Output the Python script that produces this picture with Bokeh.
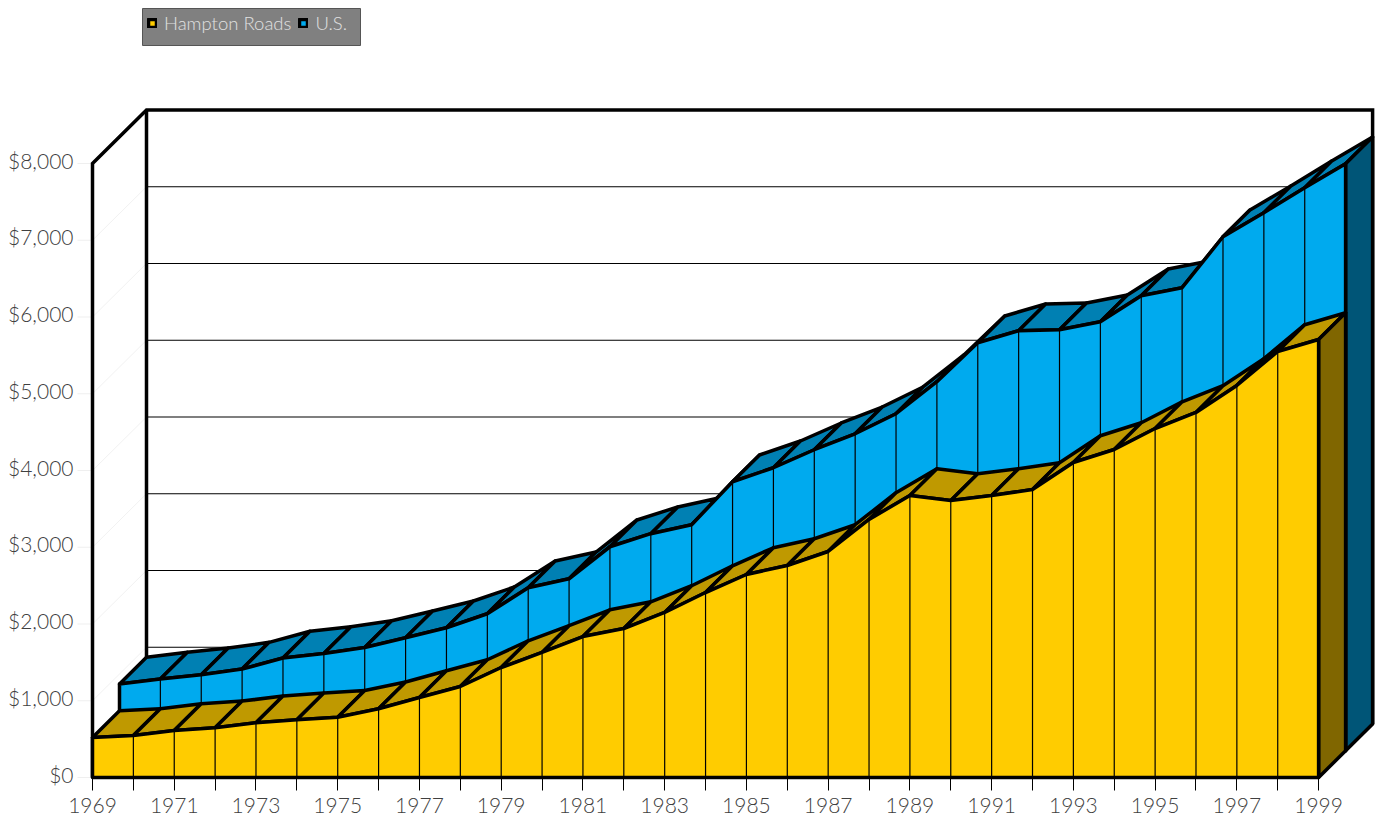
from bokeh.plotting import figure
from bokeh.models import Range1d, LinearAxis, FixedTicker, NumeralTickFormatter, Legend, LegendItem, BoxAnnotation
from bokeh.embed import file_html
from bokeh.resources import INLINE

years = list(range(1969, 2000))
labelled_years = list(range(1969, 2000, 2))
y_ticks = [0, 1000, 2000, 3000, 4000, 5000, 6000, 7000, 8000]
hampton = [521, 547, 612, 647, 713, 752, 786, 895, 1042, 1186, 1433, 1629, 1837, 1941, 2150, 2410,
           2645, 2762, 2945, 3362, 3674, 3609, 3674, 3753, 4104, 4274, 4547, 4756, 5108, 5551, 5707]
us = [869, 934, 990, 1064, 1208, 1268, 1346, 1472, 1603, 1785, 2124, 2241, 2658, 2828, 2945, 3505,
      3687, 3922, 4130, 4391, 4808, 5316, 5473, 5486, 5590, 5929, 6033, 6697, 7010, 7336, 7649]

PX_X, PX_Y = 40.87, 0.07675
DX, DY = 27 / PX_X, 26.75 / PX_Y
FONT = "Lato Light, Lato"
LW = 3.5
TEXT = "#404040"

W, H = 1379, 817
xs = 1969 - 92 / PX_X
ys = -40 / PX_Y
ye = ys + H / PX_Y
label_shift = 3.5 / PX_Y
p = figure(width=W, height=H, output_backend="svg", toolbar_location=None,
           x_range=Range1d(xs, xs + W / PX_X), y_range=Range1d(ys, ye),
           x_axis_type=None, y_axis_type=None, min_border=0,
           outline_line_color=None, background_fill_color="white", border_fill_color="white")
p.extra_y_ranges = {"labels": Range1d(ys - label_shift, ye - label_shift)}
p.grid.visible = False

x0, x1 = years[0], years[-1]
ymax = y_ticks[-1]

# faint y ticks and left-wall rules
p.segment([x0 - 15 / PX_X] * len(y_ticks), y_ticks, [x0] * len(y_ticks), y_ticks, line_color="#efefef", line_width=1)
p.segment([x0] * len(y_ticks), y_ticks, [x0 + 2 * DX] * len(y_ticks), [v + 2 * DY for v in y_ticks],
          line_color="#f2f2f2", line_width=1)
# back-wall gridlines
gv = y_ticks[1:-1]
p.segment([x0 + 2 * DX] * len(gv), [v + 2 * DY for v in gv], [x1 + 2 * DX] * len(gv), [v + 2 * DY for v in gv],
          line_color="black", line_width=1.2)
# wall frame
p.line([x0, x0, x0 + 2 * DX, x1 + 2 * DX, x1 + 2 * DX], [0, ymax, ymax + 2 * DY, ymax + 2 * DY, 2 * DY],
       line_color="black", line_width=LW, line_join="miter")
p.line([x0 + 2 * DX, x0 + 2 * DX], [ymax + 2 * DY, 2 * DY], line_color="black", line_width=LW)


def series(vals, plane, front, top, side):
    off0, off1 = plane, plane + 1
    tx, ty = [], []
    for i in range(len(years) - 1):
        tx.append([years[i] + off0 * DX, years[i + 1] + off0 * DX, years[i + 1] + off1 * DX, years[i] + off1 * DX])
        ty.append([vals[i] + off0 * DY, vals[i + 1] + off0 * DY, vals[i + 1] + off1 * DY, vals[i] + off1 * DY])
    p.patches(tx, ty, fill_color=top, line_color="black", line_width=LW, line_join="round")
    # side
    p.patch([x1 + off0 * DX, x1 + off1 * DX, x1 + off1 * DX, x1 + off0 * DX],
            [vals[-1] + off0 * DY, vals[-1] + off1 * DY, off1 * DY, off0 * DY],
            fill_color=side, line_color="black", line_width=LW, line_join="round")
    # front
    fx = [y + off0 * DX for y in years]
    fy = [v + off0 * DY for v in vals]
    r = p.patch([fx[0]] + fx + [fx[-1]], [off0 * DY] + fy + [off0 * DY],
                fill_color=front, line_color="black", line_width=LW, line_join="round")
    p.segment(fx[1:-1], fy[1:-1], fx[1:-1], [off0 * DY] * len(fx[1:-1]), line_color="black", line_width=1.2)
    return r


r_us = series(us, 1, "#00AAEE", "#0080B3", "#005577")
r_hr = series(hampton, 0, "#FFCC00", "#BF9900", "#806600")

# y labels sit on a range lifted slightly above the true scale
yax = LinearAxis(fixed_location=x0, y_range_name="labels", ticker=FixedTicker(ticks=y_ticks),
                 formatter=NumeralTickFormatter(format="$0,0"))
yax.axis_line_color = None
yax.major_tick_line_color = None
yax.major_tick_out = 15
yax.major_tick_in = 0
yax.minor_tick_line_color = None
yax.major_label_standoff = 4
yax.major_label_text_font = FONT
yax.major_label_text_font_size = "21px"
yax.major_label_text_color = TEXT
p.add_layout(yax, "left")

xax = LinearAxis(fixed_location=0,
                 ticker=FixedTicker(ticks=labelled_years, minor_ticks=[y for y in years if y not in labelled_years]))
xax.formatter.use_scientific = False
xax.formatter.power_limit_high = 10
xax.axis_line_color = None
xax.major_tick_line_color = "black"
xax.major_tick_out = 13
xax.major_tick_in = 0
xax.minor_tick_line_color = "black"
xax.minor_tick_out = 13
xax.minor_tick_in = 0
xax.major_label_standoff = 7
xax.major_label_text_font = FONT
xax.major_label_text_font_size = "21px"
xax.major_label_text_color = TEXT
p.add_layout(xax, "below")

box = BoxAnnotation(left=142, right=360, top=H - 8, bottom=H - 45, left_units="screen", right_units="screen",
                    top_units="screen", bottom_units="screen", fill_color="#808080", fill_alpha=1,
                    line_color="#555555", line_width=1, line_alpha=1)
p.add_layout(box)
legend = Legend(items=[LegendItem(label="Hampton Roads", renderers=[r_hr]), LegendItem(label="U.S.", renderers=[r_us])],
                orientation="horizontal", location=(147, H - 34), margin=0, padding=3, spacing=7,
                glyph_width=10, glyph_height=10, label_standoff=7,
                background_fill_alpha=0, border_line_color=None,
                label_text_font=FONT, label_text_font_size="18.5px", label_text_color="#E0E0E0")
p.add_layout(legend, "center")

open("out.html", "w").write(file_html(p, INLINE))
